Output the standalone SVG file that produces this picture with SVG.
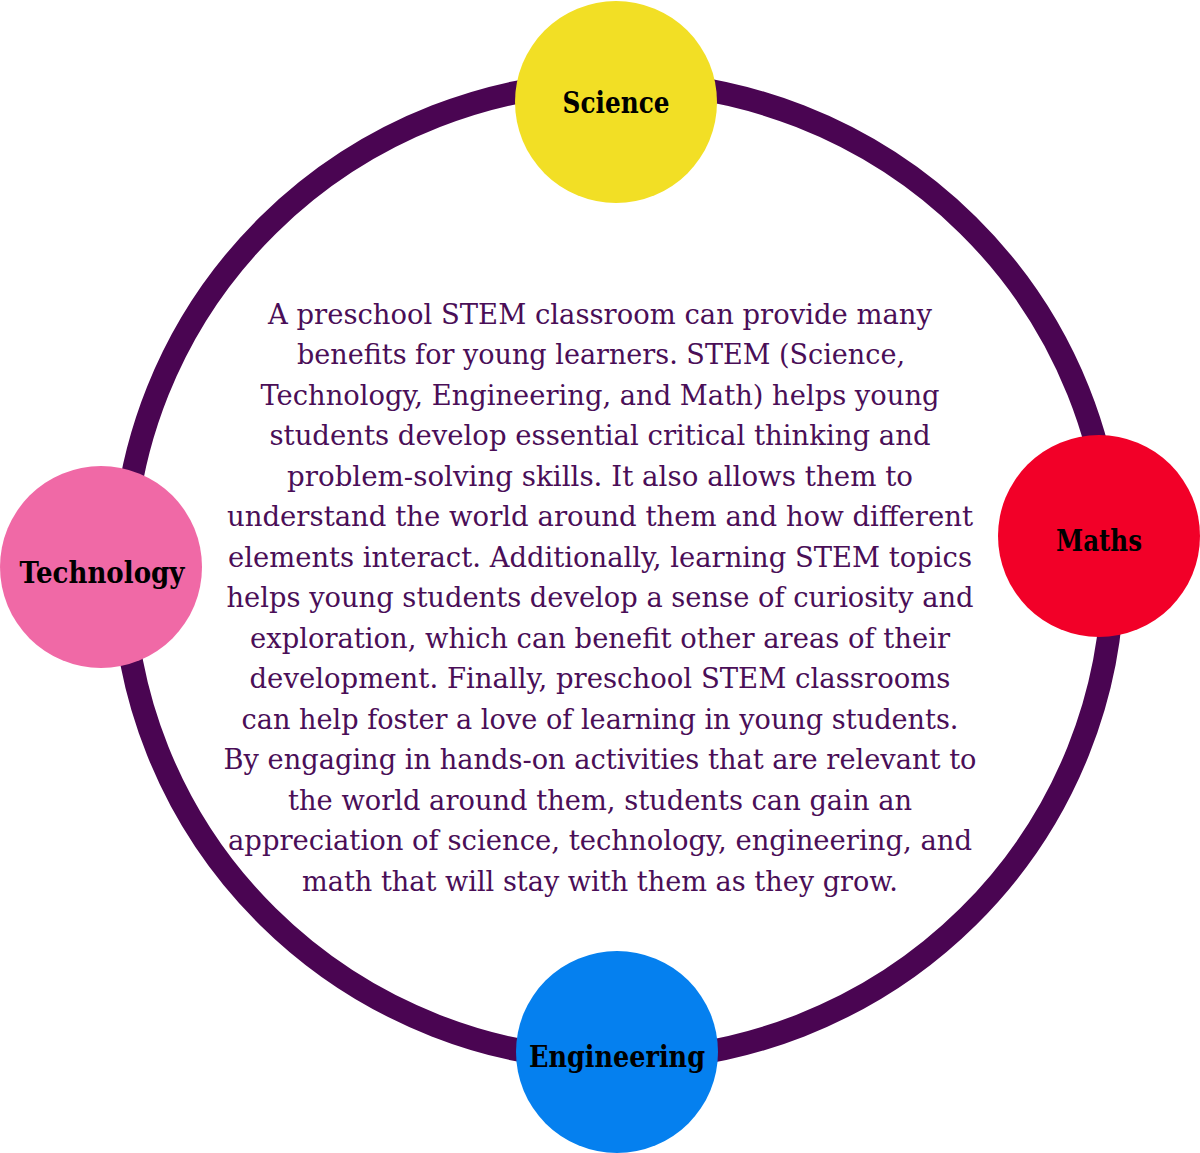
<svg xmlns="http://www.w3.org/2000/svg" width="1200" height="1153" viewBox="0 0 1200 1153">
<style>
.ring{fill:none;stroke:#4a0552;stroke-width:23}
.lbl{font-family:"DejaVu Serif","Liberation Serif",serif;font-weight:bold;font-size:30px;fill:#000;text-anchor:middle}
.body{font-family:"DejaVu Serif","Liberation Serif",serif;font-size:27px;fill:#4a0e57;text-anchor:middle}
</style>
<rect width="1200" height="1153" fill="#fff"/>
<g id="connectors">
<ellipse class="ring" cx="618" cy="571" rx="495" ry="489"/>
</g>
<g id="body-text">
<text class="body" x="600" y="324" textLength="664" lengthAdjust="spacingAndGlyphs">A preschool STEM classroom can provide many</text>
<text class="body" x="601" y="364" textLength="608" lengthAdjust="spacingAndGlyphs">benefits for young learners. STEM (Science,</text>
<text class="body" x="600" y="405" textLength="679" lengthAdjust="spacingAndGlyphs">Technology, Engineering, and Math) helps young</text>
<text class="body" x="600" y="445" textLength="661" lengthAdjust="spacingAndGlyphs">students develop essential critical thinking and</text>
<text class="body" x="600" y="486" textLength="626" lengthAdjust="spacingAndGlyphs">problem-solving skills. It also allows them to</text>
<text class="body" x="600" y="526" textLength="746" lengthAdjust="spacingAndGlyphs">understand the world around them and how different</text>
<text class="body" x="600" y="567" textLength="744" lengthAdjust="spacingAndGlyphs">elements interact. Additionally, learning STEM topics</text>
<text class="body" x="600" y="607" textLength="747" lengthAdjust="spacingAndGlyphs">helps young students develop a sense of curiosity and</text>
<text class="body" x="600" y="648" textLength="700" lengthAdjust="spacingAndGlyphs">exploration, which can benefit other areas of their</text>
<text class="body" x="600" y="688" textLength="701" lengthAdjust="spacingAndGlyphs">development. Finally, preschool STEM classrooms</text>
<text class="body" x="600" y="729" textLength="717" lengthAdjust="spacingAndGlyphs">can help foster a love of learning in young students.</text>
<text class="body" x="600" y="769" textLength="753" lengthAdjust="spacingAndGlyphs">By engaging in hands-on activities that are relevant to</text>
<text class="body" x="600" y="810" textLength="624" lengthAdjust="spacingAndGlyphs">the world around them, students can gain an</text>
<text class="body" x="600" y="850" textLength="744" lengthAdjust="spacingAndGlyphs">appreciation of science, technology, engineering, and</text>
<text class="body" x="600" y="891" textLength="596" lengthAdjust="spacingAndGlyphs">math that will stay with them as they grow.</text>
</g>
<g id="science">
<circle cx="616" cy="102" r="101" fill="#f2df25"/>
<text class="lbl" x="616" y="113" textLength="107" lengthAdjust="spacingAndGlyphs">Science</text>
</g>
<g id="maths">
<circle cx="1099" cy="536" r="101" fill="#f20028"/>
<text class="lbl" x="1099" y="551" textLength="86" lengthAdjust="spacingAndGlyphs">Maths</text>
</g>
<g id="technology">
<circle cx="101" cy="567" r="101" fill="#f069a6"/>
<text class="lbl" x="102" y="583" textLength="165" lengthAdjust="spacingAndGlyphs">Technology</text>
</g>
<g id="engineering">
<circle cx="617" cy="1052" r="101" fill="#0580ef"/>
<text class="lbl" x="617" y="1067" textLength="176" lengthAdjust="spacingAndGlyphs">Engineering</text>
</g>
</svg>
